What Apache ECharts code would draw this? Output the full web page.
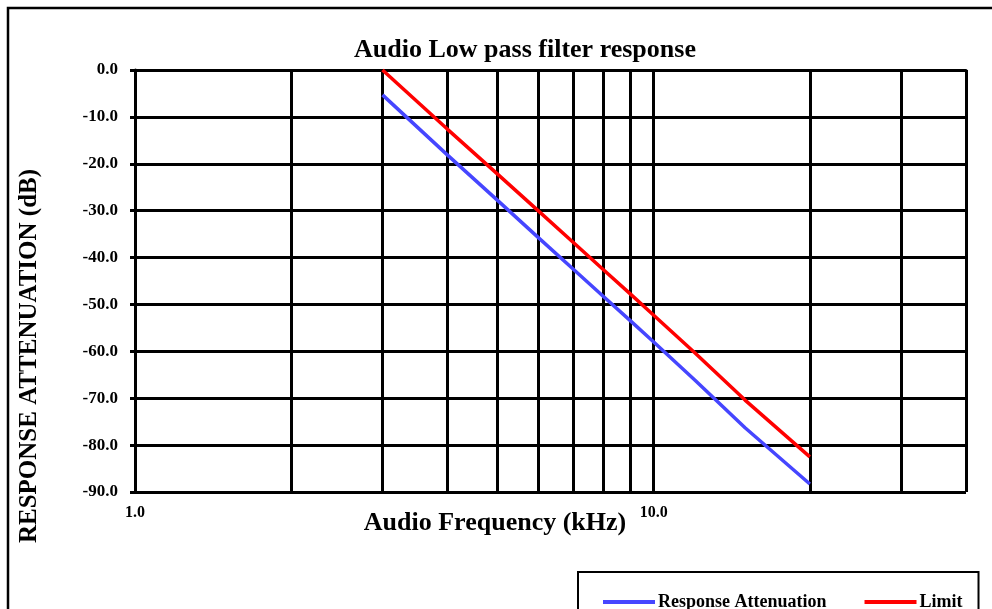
<!DOCTYPE html>
<html>
<head>
<meta charset="utf-8">
<title>Audio Low pass filter response</title>
<script src="https://cdn.jsdelivr.net/npm/echarts@6/dist/echarts.min.js"></script>
<style>
  html, body { margin: 0; padding: 0; background: #fff; }
  #chart { width: 992px; height: 609px; }
</style>
</head>
<body>
<div id="chart"></div>
<script>
// frequency points (kHz)
const freqs = [3, 4, 5, 6, 7, 8, 9, 10, 12, 15, 20];
// measured response (dB)
const responseAtt = [-5.3, -18.1, -27.8, -35.8, -42.5, -48.3, -53.4, -58.0, -66.1, -76.3, -88.3];
// limit line (dB)
const limitAtt = [0, -12.6, -22.2, -30.1, -36.8, -42.6, -47.7, -52.3, -60.3, -70.4, -82.5];
// extra vertical grid lines on the log axis
const minorGrid = [2, 3, 4, 5, 6, 7, 8, 9, 20, 30];

const serif = "'Liberation Serif', 'DejaVu Serif', serif";

const chart = echarts.init(document.getElementById("chart"), null, { renderer: "canvas" });

const option = {
    animation: false,
    backgroundColor: "#ffffff",
    title: {
        text: "Audio Low pass filter response",
        left: 520,
        textAlign: "center",
        top: 32,
        textStyle: { fontFamily: serif, fontSize: 26, fontWeight: "bold", color: "#000" },
    },
    legend: {
        left: 578,
        top: 572,
        padding: [21, 16, 40, 25],
        borderColor: "#000",
        borderWidth: 2,
        itemWidth: 52,
        itemHeight: 4,
        itemGap: 38,
        icon: "rect",
        textStyle: { fontFamily: serif, fontSize: 18, fontWeight: "bold", color: "#000", padding: [0, 0, 0, -2] },
        data: ["Response Attenuation", "Limit"],
    },
    grid: { left: 135, right: 26, top: 70, bottom: 117, containLabel: false },
    xAxis: {
        type: "log",
        logBase: 10,
        min: 1,
        max: 40,
        axisLine: { show: true, lineStyle: { color: "#000", width: 3 } },
        axisTick: { show: true, length: 5, lineStyle: { color: "#000", width: 3 } },
        splitLine: { show: true, lineStyle: { color: "#000", width: 3 } },
        axisLabel: {
            margin: 13,
            fontFamily: serif,
            fontSize: 16,
            fontWeight: "bold",
            color: "#000",
            formatter: (v) => (Math.abs(v - 1) < 1e-9 ? "1.0" : Math.abs(v - 10) < 1e-9 ? "10.0" : ""),
        },
    },
    yAxis: {
        type: "value",
        min: -90,
        max: 0,
        interval: 10,
        axisLine: { show: true, lineStyle: { color: "#000", width: 3 } },
        axisTick: { show: true, length: 5, lineStyle: { color: "#000", width: 3 } },
        splitLine: { show: true, lineStyle: { color: "#000", width: 3 } },
        axisLabel: {
            margin: 17,
            fontFamily: serif,
            fontSize: 17,
            fontWeight: "bold",
            color: "#000",
            formatter: (v) => v.toFixed(1),
        },
    },
    series: [
        {
            name: "Response Attenuation",
            type: "line",
            symbol: "none",
            z: 5,
            data: freqs.map((f, i) => [f, responseAtt[i]]),
            lineStyle: { color: "#4646ff", width: 3.5 },
            itemStyle: { color: "#4646ff" },
            markLine: {
                silent: true,
                symbol: "none",
                label: { show: false },
                lineStyle: { color: "#000", width: 3, type: "solid" },
                data: minorGrid.map((f) => ({ xAxis: f })),
                z: 1,
            },
        },
        {
            name: "Limit",
            type: "line",
            symbol: "none",
            z: 6,
            data: freqs.map((f, i) => [f, limitAtt[i]]),
            lineStyle: { color: "#ff0000", width: 3.5 },
            itemStyle: { color: "#ff0000" },
        },
    ],
    graphic: [
        {
            type: "rect",
            shape: { x: 8, y: 8, width: 1100, height: 800 },
            style: { fill: null, stroke: "#000", lineWidth: 2.5 },
            silent: true,
        },
        {
            type: "text",
            x: 30,
            y: 356,
            rotation: Math.PI / 2,
            style: {
                text: "RESPONSE ATTENUATION (dB)",
                fontFamily: serif,
                fontSize: 25,
                fontWeight: "bold",
                fill: "#000",
                align: "center",
                verticalAlign: "middle",
            },
        },
        {
            type: "text",
            x: 495,
            y: 523,
            style: {
                text: "Audio Frequency (kHz)",
                fontFamily: serif,
                fontSize: 26,
                fontWeight: "bold",
                fill: "#000",
                align: "center",
                verticalAlign: "middle",
            },
        },
    ],
};

chart.setOption(option);
</script>
</body>
</html>
